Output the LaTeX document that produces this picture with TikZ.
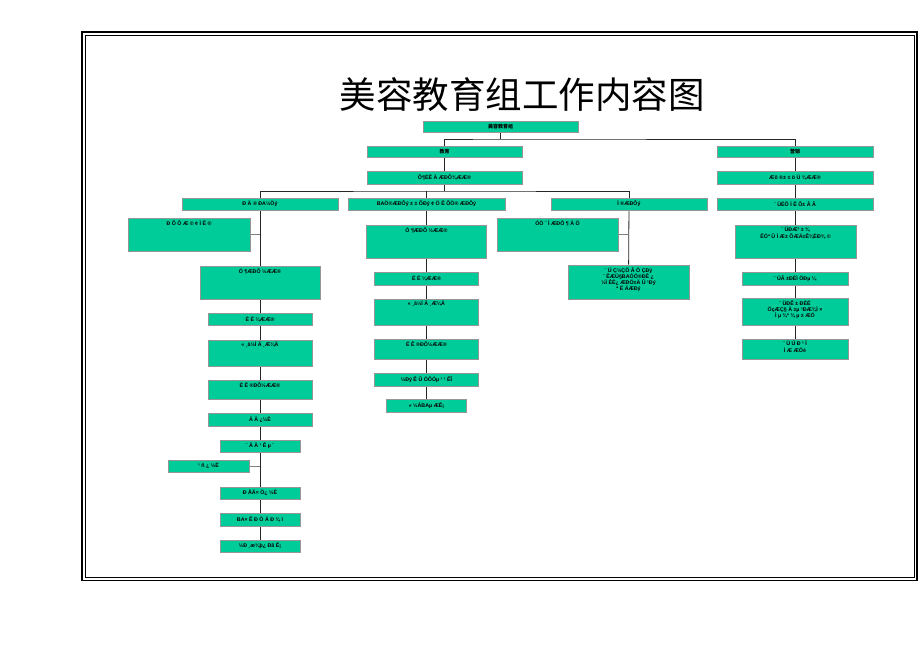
\documentclass[tikz,border=0pt]{standalone}
\usepackage{fontspec}
\setmainfont{Liberation Sans}
\newfontfamily\cjk{Noto Sans CJK SC}
\usetikzlibrary{backgrounds}
\definecolor{boxfill}{RGB}{0,204,153}
\definecolor{boxedge}{RGB}{150,150,150}
\newcommand\boxfont{\fontsize{5.3}{6.3}\selectfont\bfseries}

\begin{document}
\begin{tikzpicture}[x=1pt,y=-1pt,
	box/.style={draw=boxedge,fill=boxfill,line width=0.9pt,inner sep=0pt,font=\boxfont},
	toptext/.style={anchor=north,inner sep=2.5pt,align=center,font=\boxfont},
	tree/.style={draw=black!85,line width=0.8pt},
	stub/.style={draw=gray,line width=1pt}]
\useasboundingbox (0,0) rectangle (920,651);

% frame
\draw[line width=1.6pt] (82,32) rectangle (917,580.5);
\draw[line width=0.8pt] (85,35) rectangle (914,577.5);

\node (title) at (522,95) {\cjk\fontsize{36.5}{40}\selectfont 美容教育组工作内容图};

\node[box,minimum width=155,minimum height=11] (root) at (500.5,126.5) {\cjk\fontsize{5}{6}\selectfont 美容教育组};
\node[box,minimum width=155,minimum height=11] (jy) at (444.5,151.5) {\cjk\fontsize{5}{6}\selectfont 教育};
\node[box,minimum width=156,minimum height=11] (yx) at (795,151.5) {\cjk\fontsize{5}{6}\selectfont 营销};
\node[box,minimum width=155,minimum height=13] (jyplan) at (444.5,177.5) {Ô¶ÈÊ Ä ÆÐÔ¾ÆÆ®};
\node[box,minimum width=156,minimum height=13] (yxplan) at (795,177.5) {Æô ®± ± ö Ü ¾ÆÆ®};

\node[box,minimum width=156,minimum height=12] (xs) at (260,204) {Ð Ä ® ÐA½Öý};
\node[box,minimum width=157,minimum height=12] (zx) at (426.5,204) {BAÖ®ÆÐÔý ± ± ÕÐý ¢ Ö Ê ÕÖ® ÆÐÔý};
\node[box,minimum width=156,minimum height=12] (px) at (629,204) {Ì ®ÆÐÔý};
\node[box,minimum width=156,minimum height=12] (yx3) at (795,204) {¨ ÜËÕ Ì Ê Õ± Â Â};

% left column
\node[box,minimum width=122,minimum height=33,label={[toptext]north:Ð Õ Ô Æ © ¢ Ì Ê ®}] (l0) at (189,234.5) {};
\node[box,minimum width=120,minimum height=33,label={[toptext]north:Ó ¶ÆÐÔ ½ÆÆ®}] (l1) at (260,282.5) {};
\node[box,minimum width=104,minimum height=12] (l2) at (260,319) {É É ¼ÆÆ®};
\node[box,minimum width=104,minimum height=26,label={[toptext]north:« ¸à½Í Ä ¸Æ¼Ä}] (l3) at (260,353) {};
\node[box,minimum width=104,minimum height=19,label={[toptext]north:É Ê ®ÐÔ½ÆÆ®}] (l4) at (260,389.5) {};
\node[box,minimum width=104,minimum height=13] (l5) at (260,419.5) {Ä Ä ¿½È};
\node[box,minimum width=80,minimum height=12] (l6) at (260,446) {¨ Ä Ä ¹ Ê µ ¨};
\node[box,minimum width=81,minimum height=12] (l7) at (208.5,466) {¹ ñ ¿ ½È};
\node[box,minimum width=80,minimum height=12] (l8) at (260,493) {Ð ÅÄ× Ö¿ ½È};
\node[box,minimum width=80,minimum height=13] (l9) at (260,519.5) {BA× Ê Ð Ö Ä Ð ¾ ï};
\node[box,minimum width=80,minimum height=12] (l10) at (260,546) {½Ð ¸æ¾þ¿ Ðã Ê¡};

% middle column
\node[box,minimum width=120,minimum height=33,label={[toptext]north:Ó ¶ÆÐÔ ½ÆÆ®}] (m1) at (426.5,241.5) {};
\node[box,minimum width=104,minimum height=13] (m2) at (426.5,278.5) {É É ¼ÆÆ®};
\node[box,minimum width=104,minimum height=26,label={[toptext]north:« ¸à½Í Ä ¸Æ¼Ä}] (m3) at (426.5,312) {};
\node[box,minimum width=104,minimum height=20,label={[toptext]north:É Ê ®ÐÔ½ÆÆ®}] (m4) at (426.5,349) {};
\node[box,minimum width=104,minimum height=13] (m5) at (426.5,379.5) {½Ðý Ê Û ÓÔÓµ ¹ ¹ ÊÎ};
\node[box,minimum width=80,minimum height=13] (m6) at (426.5,405.5) {« ½ÁBAµ ÆÊ¡};

% third column
\node[box,minimum width=121,minimum height=33,label={[toptext]north:ÓÖ ¨ Ì ÆÐÔ ¶ Ä Ö}] (p0) at (557.5,234.5) {};
\node[box,minimum width=121,minimum height=34,label={[toptext]north:{¨ Ü Ç½ÇÖ Â Ö ÇÐý\\¨ ÊÆÜ§BAÓÖ®ÐÊ ¿\\½Ï ÊË¿ ÆÐÖ±Ä Û ¹Ðý\\ª Ë ÄÆÐý}}] (p1) at (628.5,282) {};

% right column
\node[box,minimum width=121,minimum height=33,label={[toptext]north:{¨ ÜÐÆ³ ± ¾\\ÊÖª Û Ì Æ± ÕÆÄ±Ê¾ÈÐ¾ ©}}] (r1) at (795.5,241.5) {};
\node[box,minimum width=106,minimum height=13] (r2) at (795,278.5) {¨ ÜÂ ±ÐÈÌ ÖÐµ ¼};
\node[box,minimum width=106,minimum height=27,label={[toptext]north:{¨ ÜÐÊ ± ÐÈÉ\\ÖçÆÇ§ Ä ±µ ¹ÐÆ¾Ì ×\\Ì µ ¾ª ¾ µ ± ÆÓ}}] (r3) at (795,311.5) {};
\node[box,minimum width=106,minimum height=20,label={[toptext]north:{¨ Ü Ú Ð ¹ Ï\\Ì Æ ÆÖè}}] (r4) at (795,349) {};

\begin{scope}[on background layer]
\coordinate (j0) at (500.5,139);
\coordinate (j1) at (444.5,191);
\draw[tree] (root) -- (j0);
\draw[tree] (jy.north) |- (j0) -| (yx.north);
\draw[tree] (jy) -- (jyplan) -- (j1);
\draw[tree] (xs.north) |- (j1) -| (px.north);
\draw[tree] (zx.north) -- (zx.north |- j1);
\draw[tree] (xs) -- (l10);
\draw[tree] (zx) -- (m6);
\draw[tree] (px) -- (p1);
\draw[tree] (yx) -- (r4);
\draw[stub] (l0.east) -- (l0.east -| xs);
\draw[stub] (l7.east) -- (l7.east -| xs);
\draw[stub] (p0.east) -- (p0.east -| px);
\end{scope}

\end{tikzpicture}
\end{document}
